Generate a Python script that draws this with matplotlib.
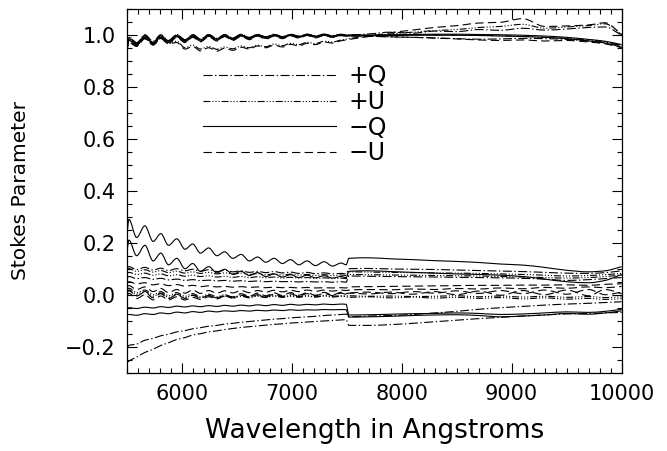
import numpy as np
import matplotlib
matplotlib.use("Agg")
import matplotlib.pyplot as plt
from matplotlib.lines import Line2D
from matplotlib.path import Path
from matplotlib.patches import PathPatch
from matplotlib.ticker import MultipleLocator

# wavelength grid (Angstroms): fringe peaks/troughs below 7500, coarser above
wavelength = [5500, 5520, 5590, 5665, 5740, 5810, 5880, 5955, 6030, 6100, 6170, 6245, 6320, 6390,
              6465, 6540, 6615, 6690, 6765, 6840, 6915, 6990, 7065, 7140, 7215, 7295, 7370, 7450,
              7495, 7520, 7700, 7900, 8100, 8300, 8500, 8700, 8900, 9100, 9300, 9500, 9700, 9850, 10000]

# -Q (solid)
mq_1 = [0.95, 0.985, 0.965, 0.995, 0.97, 0.995, 0.975, 0.997, 0.978, 0.997, 0.98, 0.998, 0.983, 0.998,
        0.985, 0.999, 0.987, 1.0, 0.99, 1.0, 0.991, 1.0, 0.993, 1.001, 0.994, 1.001, 0.995, 1.0,
        0.998, 0.998, 0.999, 1.0, 1.001, 1.002, 1.002, 1.001, 1.0, 0.998, 0.995, 0.99, 0.982, 0.975, 0.962]
mq_2 = [0.935, 0.978, 0.96, 0.99, 0.965, 0.99, 0.97, 0.992, 0.973, 0.992, 0.976, 0.994, 0.979, 0.994,
        0.981, 0.995, 0.984, 0.996, 0.986, 0.996, 0.988, 0.997, 0.99, 0.998, 0.991, 0.998, 0.992, 0.997,
        0.995, 0.995, 0.996, 0.997, 0.998, 0.998, 0.998, 0.997, 0.995, 0.993, 0.99, 0.985, 0.976, 0.968, 0.952]
mq_a = [0.22, 0.29, 0.22, 0.265, 0.205, 0.235, 0.19, 0.215, 0.175, 0.195, 0.16, 0.18, 0.15, 0.165,
        0.14, 0.155, 0.13, 0.145, 0.125, 0.14, 0.12, 0.135, 0.115, 0.13, 0.112, 0.127, 0.11, 0.122,
        0.115, 0.14, 0.142, 0.138, 0.135, 0.131, 0.128, 0.124, 0.118, 0.114, 0.105, 0.094, 0.088, 0.092, 0.108]
mq_b = [0.16, 0.21, 0.15, 0.19, 0.13, 0.16, 0.115, 0.14, 0.10, 0.12, 0.09, 0.108, 0.084, 0.098,
        0.079, 0.09, 0.074, 0.085, 0.07, 0.08, 0.068, 0.077, 0.066, 0.075, 0.065, 0.073, 0.064, 0.07,
        0.066, 0.09, 0.092, 0.089, 0.086, 0.083, 0.08, 0.078, 0.075, 0.07, 0.06, 0.05, 0.046, 0.055, 0.078]
mq_c = [-0.052, -0.05, -0.053, -0.048, -0.051, -0.046, -0.049, -0.044, -0.047, -0.043, -0.046, -0.042, -0.045, -0.041,
        -0.044, -0.04, -0.043, -0.039, -0.042, -0.038, -0.041, -0.037, -0.04, -0.037, -0.039, -0.036, -0.038, -0.036,
        -0.037, -0.078, -0.077, -0.075, -0.073, -0.072, -0.07, -0.072, -0.076, -0.074, -0.07, -0.066, -0.068, -0.064, -0.056]
mq_d = [-0.078, -0.076, -0.079, -0.073, -0.076, -0.07, -0.073, -0.067, -0.07, -0.065, -0.068, -0.063, -0.066, -0.062,
        -0.064, -0.061, -0.063, -0.06, -0.062, -0.059, -0.061, -0.058, -0.06, -0.058, -0.059, -0.057, -0.058, -0.057,
        -0.058, -0.086, -0.085, -0.083, -0.08, -0.078, -0.077, -0.08, -0.085, -0.082, -0.078, -0.072, -0.075, -0.07, -0.062]

# +Q (dash-dot)
pq_1 = [0.945, 0.99, 0.968, 0.998, 0.972, 0.998, 0.977, 1.0, 0.98, 1.0, 0.982, 1.0, 0.985, 1.0,
        0.987, 1.001, 0.989, 1.001, 0.991, 1.001, 0.992, 1.001, 0.994, 1.002, 0.995, 1.002, 0.996, 1.001,
        0.999, 0.999, 0.995, 0.992, 0.99, 0.988, 0.985, 0.983, 0.984, 0.986, 0.985, 0.982, 0.976, 0.97, 0.958]
pq_2 = [0.955, 0.992, 0.97, 1.0, 0.975, 1.0, 0.978, 1.001, 0.981, 1.001, 0.984, 1.001, 0.986, 1.001,
        0.988, 1.002, 0.99, 1.002, 0.992, 1.002, 0.993, 1.002, 0.995, 1.002, 0.996, 1.002, 0.997, 1.002,
        1.0, 1.0, 1.003, 1.01, 1.006, 1.014, 1.012, 1.02, 1.017, 1.025, 1.018, 1.022, 1.028, 1.03, 0.998]
pq_a = [0.1, 0.108, 0.097, 0.105, 0.095, 0.102, 0.093, 0.1, 0.092, 0.098, 0.09, 0.096, 0.089, 0.094,
        0.088, 0.092, 0.086, 0.09, 0.085, 0.089, 0.084, 0.087, 0.082, 0.086, 0.081, 0.084, 0.08, 0.082,
        0.08, 0.1, 0.101, 0.099, 0.098, 0.097, 0.095, 0.093, 0.091, 0.089, 0.086, 0.083, 0.082, 0.085, 0.092]
pq_b = [0.065, 0.07, 0.062, 0.066, 0.059, 0.063, 0.057, 0.06, 0.055, 0.058, 0.054, 0.056, 0.053, 0.055,
        0.052, 0.054, 0.051, 0.053, 0.05, 0.052, 0.05, 0.051, 0.049, 0.051, 0.049, 0.05, 0.048, 0.05,
        0.048, 0.072, 0.071, 0.07, 0.069, 0.068, 0.067, 0.066, 0.065, 0.063, 0.06, 0.055, 0.058, 0.062, 0.066]
pq_c = [-0.205, -0.195, -0.19, -0.175, -0.168, -0.158, -0.152, -0.143, -0.138, -0.131, -0.127, -0.121, -0.118, -0.113,
        -0.11, -0.106, -0.103, -0.1, -0.097, -0.094, -0.092, -0.089, -0.087, -0.085, -0.083, -0.08, -0.078, -0.076,
        -0.075, -0.085, -0.082, -0.08, -0.076, -0.07, -0.064, -0.056, -0.05, -0.045, -0.04, -0.036, -0.033, -0.03, -0.027]
pq_d = [-0.262, -0.255, -0.24, -0.222, -0.21, -0.195, -0.185, -0.172, -0.165, -0.155, -0.15, -0.143, -0.139, -0.134,
        -0.13, -0.126, -0.123, -0.12, -0.117, -0.114, -0.112, -0.109, -0.107, -0.105, -0.103, -0.101, -0.099, -0.097,
        -0.096, -0.118, -0.118, -0.115, -0.11, -0.104, -0.098, -0.092, -0.087, -0.082, -0.078, -0.074, -0.072, -0.07, -0.068]

# +U (dash-dot-dot-dot)
pu_1 = [0.948, 0.98, 0.962, 0.99, 0.966, 0.99, 0.97, 0.975, 0.95, 0.96, 0.945, 0.955, 0.944, 0.953,
        0.946, 0.957, 0.95, 0.96, 0.954, 0.964, 0.958, 0.967, 0.962, 0.971, 0.966, 0.975, 0.972, 0.98,
        0.983, 0.985, 0.995, 1.003, 1.01, 1.016, 1.02, 1.028, 1.032, 1.04, 1.025, 1.03, 1.035, 1.042, 1.0]
pu_2 = [0.94, 0.982, 0.962, 0.993, 0.968, 0.993, 0.972, 0.995, 0.976, 0.995, 0.979, 0.996, 0.982, 0.996,
        0.984, 0.997, 0.986, 0.998, 0.988, 0.998, 0.99, 0.999, 0.991, 0.999, 0.992, 0.999, 0.993, 0.999,
        0.997, 0.997, 0.998, 0.999, 1.0, 1.0, 0.999, 0.998, 0.996, 0.994, 0.99, 0.986, 0.98, 0.972, 0.958]
pu_a = [0.095, 0.1, 0.09, 0.096, 0.087, 0.093, 0.085, 0.09, 0.083, 0.088, 0.082, 0.086, 0.08, 0.084,
        0.079, 0.083, 0.078, 0.081, 0.077, 0.08, 0.076, 0.079, 0.075, 0.078, 0.074, 0.077, 0.073, 0.076,
        0.074, 0.088, 0.087, 0.086, 0.085, 0.084, 0.083, 0.082, 0.08, 0.078, 0.075, 0.072, 0.074, 0.077, 0.082]
pu_b = [0.08, 0.086, 0.078, 0.083, 0.075, 0.08, 0.073, 0.077, 0.071, 0.075, 0.07, 0.073, 0.068, 0.071,
        0.067, 0.07, 0.066, 0.069, 0.065, 0.068, 0.064, 0.067, 0.064, 0.066, 0.063, 0.065, 0.062, 0.064,
        0.062, 0.078, 0.077, 0.076, 0.075, 0.074, 0.073, 0.072, 0.07, 0.068, 0.066, 0.064, 0.066, 0.07, 0.075]
pu_c = [0.02, 0.025, 0.008, 0.018, 0.0, 0.012, -0.004, 0.008, -0.006, 0.004, -0.008, 0.002, -0.008, 0.0,
        -0.01, -0.002, -0.008, -0.003, -0.009, -0.004, -0.008, -0.003, -0.007, -0.004, -0.008, -0.003, -0.006, -0.004,
        -0.005, -0.004, -0.006, -0.005, -0.007, -0.006, -0.004, -0.008, -0.005, -0.009, -0.006, -0.01, -0.007, -0.011, -0.008]
pu_d = [0.01, 0.018, 0.002, 0.012, -0.006, 0.006, -0.01, 0.002, -0.012, -0.002, -0.012, -0.004, -0.013, -0.005,
        -0.013, -0.006, -0.012, -0.006, -0.011, -0.005, -0.01, -0.006, -0.01, -0.005, -0.009, -0.005, -0.009, -0.006,
        -0.007, -0.01, -0.008, -0.012, -0.009, -0.013, -0.01, -0.014, -0.011, -0.016, -0.012, -0.017, -0.014, -0.018, -0.015]

# -U (dashed)
mu_1 = [0.94, 0.975, 0.958, 0.985, 0.962, 0.985, 0.965, 0.97, 0.945, 0.955, 0.938, 0.95, 0.937, 0.948,
        0.94, 0.952, 0.945, 0.957, 0.95, 0.96, 0.953, 0.963, 0.957, 0.967, 0.962, 0.972, 0.968, 0.977,
        0.98, 0.982, 0.993, 1.008, 1.018, 1.028, 1.035, 1.045, 1.048, 1.062, 1.032, 1.034, 1.038, 1.046, 1.002]
mu_2 = [0.93, 0.97, 0.955, 0.985, 0.96, 0.986, 0.965, 0.99, 0.97, 0.99, 0.973, 0.992, 0.976, 0.993,
        0.978, 0.994, 0.981, 0.995, 0.983, 0.995, 0.985, 0.996, 0.987, 0.997, 0.988, 0.997, 0.99, 0.997,
        0.995, 0.995, 0.994, 0.992, 0.99, 0.987, 0.984, 0.98, 0.978, 0.98, 0.976, 0.978, 0.972, 0.965, 0.95]
mu_a = [0.03, 0.035, 0.02, 0.03, 0.012, 0.024, 0.008, 0.02, 0.006, 0.018, 0.005, 0.016, 0.006, 0.015,
        0.007, 0.016, 0.008, 0.016, 0.01, 0.017, 0.011, 0.017, 0.012, 0.018, 0.013, 0.018, 0.014, 0.018,
        0.016, 0.018, 0.02, 0.019, 0.022, 0.02, 0.024, 0.022, 0.026, 0.023, 0.028, 0.025, 0.03, 0.027, 0.032]
mu_b = [0.005, 0.015, -0.005, 0.01, -0.012, 0.004, -0.015, 0.0, -0.014, -0.002, -0.013, -0.003, -0.012, -0.002,
        -0.008, 0.004, -0.006, 0.006, -0.004, 0.007, -0.003, 0.008, -0.002, 0.008, -0.002, 0.009, -0.001, 0.009,
        0.004, 0.006, 0.003, 0.01, 0.002, 0.012, 0.0, 0.014, -0.002, 0.016, 0.0, 0.018, -0.004, 0.02, 0.004]
mu_c = [0.045, 0.05, 0.042, 0.046, 0.038, 0.042, 0.035, 0.039, 0.033, 0.036, 0.031, 0.034, 0.03, 0.032,
        0.029, 0.031, 0.028, 0.03, 0.027, 0.029, 0.027, 0.028, 0.026, 0.028, 0.026, 0.027, 0.026, 0.027,
        0.026, 0.03, 0.031, 0.032, 0.033, 0.034, 0.035, 0.036, 0.036, 0.037, 0.037, 0.038, 0.036, 0.04, 0.042]
mu_d = [-0.005, 0.005, -0.015, 0.0, -0.02, -0.005, -0.02, -0.008, -0.02, -0.01, -0.018, -0.008, -0.016, -0.006,
        -0.012, -0.002, -0.01, 0.0, -0.008, 0.002, -0.006, 0.003, -0.005, 0.004, -0.004, 0.005, -0.003, 0.006,
        0.002, 0.006, 0.01, 0.004, 0.012, 0.006, 0.015, 0.005, 0.016, 0.004, 0.018, 0.002, 0.02, 0.0, 0.01]

legend_labels = ["+Q", "+U", "\u2212Q", "\u2212U"]

# IDL-like line styles (dash lengths in points)
ls_pq = (0, (6.5, 1.8, 1.0, 1.8))
ls_pu = (0, (5.0, 1.4, 0.8, 1.4, 0.8, 1.4, 0.8, 1.4))
ls_mq = "-"
ls_mu = (0, (6.0, 3.1))


def smooth_path(x, y):
    # monotone cubic (pchip-style) tangents turned into bezier segments,
    # so the sampled fringes render as smooth waves instead of a zigzag
    x = np.asarray(x, float)
    y = np.asarray(y, float)
    h = np.diff(x)
    d = np.diff(y) / h
    m = np.zeros_like(y)
    for i in range(1, len(y) - 1):
        if d[i - 1] * d[i] > 0:
            w1 = 2 * h[i] + h[i - 1]
            w2 = h[i] + 2 * h[i - 1]
            m[i] = (w1 + w2) / (w1 / d[i - 1] + w2 / d[i])
    m[0], m[-1] = d[0], d[-1]
    verts = [(x[0], y[0])]
    codes = [Path.MOVETO]
    for i in range(len(h)):
        verts += [(x[i] + h[i] / 3, y[i] + m[i] * h[i] / 3),
                  (x[i + 1] - h[i] / 3, y[i + 1] - m[i + 1] * h[i] / 3),
                  (x[i + 1], y[i + 1])]
        codes += [Path.CURVE4] * 3
    return Path(verts, codes)


plt.rcParams["lines.scale_dashes"] = False
plt.rcParams["font.family"] = ["DejaVu Sans"]

fig = plt.figure(figsize=(6.67, 4.51), dpi=100)
ax = fig.add_axes([0.19, 0.1736, 0.742, 0.807])

groups = [
    (ls_pq, [pq_1, pq_2, pq_a, pq_b, pq_c, pq_d]),
    (ls_pu, [pu_1, pu_2, pu_a, pu_b, pu_c, pu_d]),
    (ls_mq, [mq_1, mq_2, mq_a, mq_b, mq_c, mq_d]),
    (ls_mu, [mu_1, mu_2, mu_a, mu_b, mu_c, mu_d]),
]
for ls, curves in groups:
    for vals in curves:
        ax.add_patch(PathPatch(smooth_path(wavelength, vals), fill=False, edgecolor="black",
                               lw=0.8, linestyle=ls, clip_on=True))

ax.set_xlim(5500, 10000)
ax.set_ylim(-0.3, 1.1)
ax.xaxis.set_major_locator(MultipleLocator(1000))
ax.xaxis.set_minor_locator(MultipleLocator(100))
ax.yaxis.set_major_locator(MultipleLocator(0.2))
ax.yaxis.set_minor_locator(MultipleLocator(0.05))
ax.tick_params(which="both", direction="in", top=True, right=True, width=0.8, color="black")
ax.tick_params(which="major", length=7.2, labelsize=15, pad=8)
ax.tick_params(which="minor", length=3.6)
for sp in ax.spines.values():
    sp.set_linewidth(0.9)

ax.set_xlabel("Wavelength in Angstroms", fontsize=19)
ax.set_ylabel("Stokes Parameter", fontsize=14.5)
ax.xaxis.set_label_coords(0.5, -0.16)
ax.xaxis.label.set_va("center")
ax.yaxis.set_label_coords(-0.215, 0.5)
ax.yaxis.label.set_va("center")

handles = [Line2D([], [], color="black", lw=0.8, linestyle=ls) for ls in (ls_pq, ls_pu, ls_mq, ls_mu)]
ax.legend(handles, legend_labels, loc="upper left", bbox_to_anchor=(0.155, 0.847), frameon=False,
          fontsize=17, handlelength=5.6, handletextpad=0.55, labelspacing=0.07,
          borderpad=0, borderaxespad=0)

fig.savefig("out.png", dpi=100)
